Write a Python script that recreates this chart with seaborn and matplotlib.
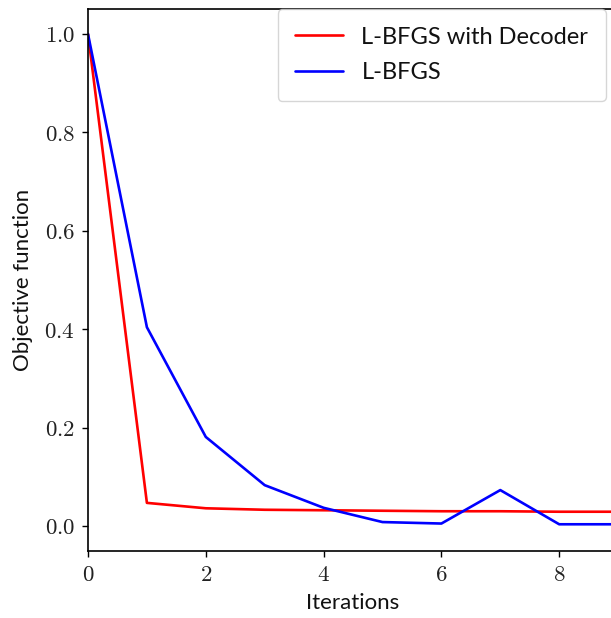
import matplotlib
matplotlib.use("Agg")
import matplotlib.pyplot as plt
import matplotlib.ticker as mticker
import seaborn as sns
import pandas as pd

iterations = [0, 1, 2, 3, 4, 5, 6, 7, 8, 9]
decoder_vals = [1.0, 0.047, 0.036, 0.033, 0.032, 0.031, 0.030, 0.030, 0.029, 0.029]
lbfgs_vals = [1.0, 0.404, 0.181, 0.083, 0.037, 0.008, 0.005, 0.073, 0.0035, 0.0035]
series_names = ["L-BFGS with Decoder", "L-BFGS"]
xticks = [0, 2, 4, 6, 8]
yticks = [0.0, 0.2, 0.4, 0.6, 0.8, 1.0]

df = pd.DataFrame({
    "Iterations": iterations * 2,
    "Objective function": decoder_vals + lbfgs_vals,
    "method": [series_names[0]] * len(iterations) + [series_names[1]] * len(iterations),
})

sns.set_style("ticks")
plt.rcParams["mathtext.fontset"] = "cm"
plt.rcParams["font.family"] = ["Lato", "DejaVu Sans"]

W, H = 611, 618
fig = plt.figure(figsize=(W / 100, H / 100), dpi=100)
left_px, right_px, top_px, bot_px = 88, 88 + 9 * 58.9, 9.4, 550.6
ax = fig.add_axes([left_px / W, 1 - bot_px / H, (right_px - left_px) / W, (bot_px - top_px) / H])

sns.lineplot(data=df, x="Iterations", y="Objective function", hue="method",
             palette={series_names[0]: "#ff0000", series_names[1]: "#0000ff"},
             linewidth=1.9, ax=ax, legend=True)

ax.set_xlim(0, 9)
ax.set_ylim(-0.05, 1.05)
ax.set_xticks(xticks)
ax.set_yticks(yticks)
ax.xaxis.set_major_formatter(mticker.FuncFormatter(lambda v, p: f"${v:.0f}$"))
ax.yaxis.set_major_formatter(mticker.FuncFormatter(lambda v, p: f"${v:.1f}$"))
ax.tick_params(axis="both", labelsize=16.5, direction="out", length=4.5, width=1, pad=5,
               color="black", labelcolor="#222222")
for s in ax.spines.values():
    s.set_color("black")
    s.set_linewidth(1.2)
ax.set_xlabel("Iterations", fontsize=16, labelpad=6, color="#111111")
ax.set_ylabel("Objective function", fontsize=16, labelpad=8, color="#111111")

leg = ax.legend(loc="upper right", bbox_to_anchor=(606 / W, 1 - 9 / H), bbox_transform=fig.transFigure,
                fontsize=17, frameon=True, fancybox=True, handlelength=2.0, borderaxespad=0,
                labelspacing=0.62, borderpad=0.75, handletextpad=0.8)
leg.get_frame().set_edgecolor("#cccccc")
leg.get_frame().set_linewidth(1.0)
for t in leg.get_texts():
    t.set_color("#111111")

fig.savefig("out.png", dpi=100)
